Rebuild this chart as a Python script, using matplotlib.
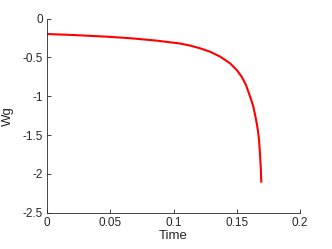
import numpy as np
import matplotlib.pyplot as plt

# values
time = [0.0, 0.02, 0.0472, 0.0667, 0.0867, 0.1051, 0.113, 0.1209, 0.1289,
        0.1368, 0.1447, 0.150, 0.1539, 0.1573, 0.1599, 0.1615, 0.1631,
        0.1645, 0.1658, 0.1668, 0.1676, 0.1684, 0.1690, 0.1694]
wg = [-0.200, -0.212, -0.234, -0.255, -0.285, -0.322, -0.348, -0.383, -0.428,
      -0.49, -0.577, -0.663, -0.75, -0.856, -0.976, -1.05, -1.135,
      -1.24, -1.35, -1.45, -1.56, -1.75, -1.93, -2.10]

x_ticks = [0, 0.05, 0.1, 0.15, 0.2]
x_ticklabels = ['0', '0.05', '0.1', '0.15', '0.2']
y_ticks = [-2.5, -2, -1.5, -1, -0.5, 0]
y_ticklabels = ['-2.5', '-2', '-1.5', '-1', '-0.5', '0']

plt.rcParams['font.family'] = ['Liberation Sans', 'DejaVu Sans']

fig = plt.figure(figsize=(3.32, 2.49), dpi=100)
ax = fig.add_axes([0.1416, 0.1458, 0.7620, 0.7799])

ax.plot(time, wg, color='#ff0000', lw=1.5, solid_joinstyle='round')

ax.set_xlim(0, 0.2)
ax.set_ylim(-2.5, 0)
ax.set_xticks(x_ticks)
ax.set_xticklabels(x_ticklabels)
ax.set_yticks(y_ticks)
ax.set_yticklabels(y_ticklabels)

for side in ['top', 'right']:
    ax.spines[side].set_visible(False)
for side in ['left', 'bottom']:
    ax.spines[side].set_color('#262626')
    ax.spines[side].set_linewidth(0.6)

ax.tick_params(direction='in', length=3, width=0.6, colors='#262626', labelsize=8.5, pad=3)
ax.set_xlabel('Time', fontsize=9.5, color='#262626', labelpad=1)
ax.set_ylabel('Wg', fontsize=9.5, color='#262626', labelpad=6)

fig.savefig('out.png', dpi=100)
